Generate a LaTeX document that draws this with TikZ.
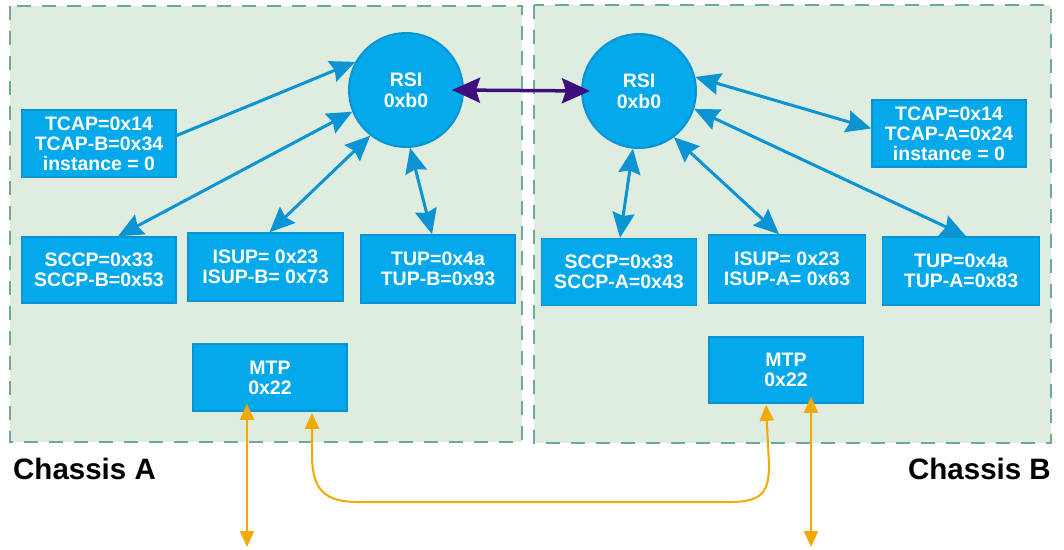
\documentclass[tikz,border=0pt]{standalone}
\usepackage{fontspec}
\setmainfont{Liberation Sans}
\usetikzlibrary{arrows.meta}
\definecolor{chfill}{HTML}{DFECE0}
\definecolor{chline}{HTML}{6FA898}
\definecolor{boxfill}{HTML}{03A9EA}
\definecolor{boxline}{HTML}{0A94D4}
\definecolor{arrblue}{HTML}{0A94D4}
\definecolor{purp}{HTML}{3E0F7C}
\definecolor{amber}{HTML}{F2A900}
\begin{document}
\begin{tikzpicture}[x=1pt,y=-1pt,
  chassis/.style={fill=chfill, draw=chline, line width=2pt, dash pattern=on 14pt off 11pt},
  blk/.style={rectangle, fill=boxfill, draw=boxline, line width=1.5pt, text=white,
    font=\bfseries\fontsize{19.5}{20}\selectfont, align=center, inner sep=0pt},
  rsi/.style={circle, fill=boxfill, draw=boxline, line width=2pt, minimum size=114pt,
    text=white, font=\bfseries\fontsize{19.5}{21}\selectfont, align=center, inner sep=0pt},
  conn/.style={draw=arrblue, line width=3pt, >={Stealth[length=25pt,width=22pt,inset=3pt]}},
  link/.style={draw=purp, line width=3.5pt, >={Stealth[length=28pt,width=25pt,inset=4pt]}},
  trunk/.style={draw=amber, line width=2pt, >={Triangle[length=16pt,width=14pt]}},
  lab/.style={font=\bfseries\fontsize{29.5}{32}\selectfont, inner sep=0pt}
]
\useasboundingbox (0,0) rectangle (1064,549);
\fill[white] (0,0) rectangle (1064,549);

% chassis areas
\draw[chassis] (10,6) rectangle (522,442);
\draw[chassis] (534,5) rectangle (1051,443);

% Chassis A nodes
\node[rsi] (rsiA) at (406,90) {RSI\\0xb0};
\node[blk, minimum width=154pt, minimum height=67pt] (tcapB) at (99,143.5) {TCAP=0x14\\TCAP-B=0x34\\instance = 0};
\node[blk, minimum width=154pt, minimum height=66pt] (sccpB) at (99,270) {SCCP=0x33\\SCCP-B=0x53};
\node[blk, minimum width=155pt, minimum height=68pt] (isupB) at (265.5,267) {ISUP= 0x23\\ISUP-B= 0x73};
\node[blk, minimum width=154pt, minimum height=68pt] (tupB) at (438,269) {TUP=0x4a\\TUP-B=0x93};
\node[blk, minimum width=154pt, minimum height=67pt] (mtpA) at (270,377.5) {MTP\\0x22};

% Chassis B nodes
\node[rsi] (rsiB) at (639,91) {RSI\\0xb0};
\node[blk, minimum width=154pt, minimum height=67pt] (tcapA) at (949,133.5) {TCAP=0x14\\TCAP-A=0x24\\instance = 0};
\node[blk, minimum width=155pt, minimum height=67pt] (sccpA) at (619,272) {SCCP=0x33\\SCCP-A=0x43};
\node[blk, minimum width=157pt, minimum height=68pt] (isupA) at (787,269) {ISUP= 0x23\\ISUP-A= 0x63};
\node[blk, minimum width=157pt, minimum height=68pt] (tupA) at (961,271) {TUP=0x4a\\TUP-A=0x83};
\node[blk, minimum width=154pt, minimum height=66pt] (mtpB) at (786,370) {MTP\\0x22};

% labels
\node[lab, anchor=west] (labA) at (13,469) {Chassis A};
\node[lab, anchor=east] (labB) at (1051,469) {Chassis B};

% connectors chassis A
\draw[conn,->] ([yshift=8pt]tcapB.east) -- (rsiA.151);
\draw[conn,<->] ([xshift=19pt]sccpB.north) -- (rsiA.202);
\draw[conn,<->] ([xshift=4pt]isupB.north) -- (rsiA.232);
\draw[conn,<->] ([xshift=-6pt]tupB.north) -- (rsiA.274);

% connectors chassis B
\draw[conn,<->] (rsiB.14) -- ([yshift=5pt]tcapA.west);
\draw[conn,<->] ([xshift=1pt]sccpA.north) -- (rsiB.264);
\draw[conn,<->] ([xshift=-8pt]isupA.north) -- (rsiB.-53);
\draw[conn,<->] ([xshift=5pt]tupA.north) -- (rsiB.-18);

% RSI link
\draw[link,<->] ([xshift=-12pt]rsiA.east) -- ([xshift=9pt]rsiB.west);

% MTP trunks
\coordinate (downA) at (247,547);
\coordinate (downB) at (811,547);
\draw[trunk,<->] ([xshift=-23pt,yshift=8pt]mtpA.south) -- (downA);
\draw[trunk,<->] ([xshift=25pt,yshift=7pt]mtpB.south) -- (downB);
\draw[trunk,<->] ([xshift=42pt,yshift=-1pt]mtpA.south)
  -- (312,455) .. controls (312,490) and (325,502) .. (358,502)
  -- (730,502) .. controls (762,502) and (769,492) .. (769,465)
  -- ([xshift=-20pt,yshift=-1pt]mtpB.south);
\end{tikzpicture}
\end{document}
